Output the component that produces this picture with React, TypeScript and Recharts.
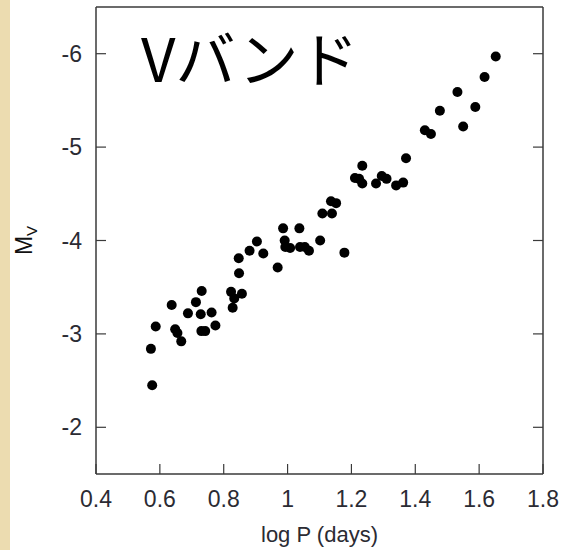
import { ScatterChart, Scatter, XAxis, YAxis } from 'recharts';

// log P (days) of each Cepheid
const logP = [
  0.576, 0.572, 0.587, 0.637, 0.648, 0.655, 0.667, 0.688, 0.713, 0.731,
  0.728, 0.73, 0.742, 0.762, 0.774, 0.823, 0.833, 0.828, 0.857, 0.848,
  0.847, 0.881, 0.904, 0.924, 0.969, 0.986, 0.991, 0.993, 1.008, 1.037,
  1.039, 1.054, 1.067, 1.102, 1.178, 1.109, 1.139, 1.136, 1.152, 1.234,
  1.211, 1.224, 1.234, 1.277, 1.295, 1.31, 1.34, 1.362, 1.371, 1.652,
  1.617, 1.532, 1.477, 1.588, 1.55, 1.43, 1.449,
];

// absolute V magnitude, same order
const absMagV = [
  -2.45, -2.84, -3.08, -3.31, -3.05, -3.01, -2.92, -3.22, -3.34, -3.46,
  -3.21, -3.03, -3.03, -3.23, -3.09, -3.45, -3.38, -3.28, -3.43, -3.65,
  -3.81, -3.89, -3.99, -3.86, -3.71, -4.13, -4.0, -3.93, -3.92, -4.13,
  -3.93, -3.93, -3.89, -4.0, -3.87, -4.29, -4.29, -4.42, -4.4, -4.8,
  -4.67, -4.66, -4.61, -4.61, -4.69, -4.66, -4.59, -4.62, -4.88, -5.97,
  -5.75, -5.59, -5.39, -5.43, -5.22, -5.18, -5.14,
];

const xTicks = [0.4, 0.6, 0.8, 1, 1.2, 1.4, 1.6, 1.8];
const yTicks = [-6, -5, -4, -3, -2];

const data = logP.map((p, i) => ({ logP: p, mv: absMagV[i] }));

const FRAME = '#3a3a3a';
const TEXT = '#2b2b33';
const FONT = '"Liberation Sans", Arial, sans-serif';

const noLabel = () => <g />;

const YLabel = (props: any) => {
  const vb = props.viewBox || { x: 0, y: 7, width: 96, height: 467 };
  const x = vb.x + 32;
  const y = vb.y + vb.height / 2;
  return (
    <text
      x={x}
      y={y}
      transform={`rotate(-90, ${x}, ${y})`}
      textAnchor="middle"
      fill="#111"
      fontFamily={FONT}
      fontSize={23}
    >
      M
      <tspan fontSize={15} dy={5}>V</tspan>
    </text>
  );
};

export default function App() {
  return (
    <div style={{ position: 'absolute', left: 0, top: 0, width: 567, height: 550, background: '#fff' }}>
      <div style={{ position: 'absolute', left: 0, top: 0, width: 10, height: 550, background: '#ecdcb0' }} />
      <ScatterChart width={567} height={550} margin={{ top: 0, right: 0, bottom: 0, left: 0 }}>
        <XAxis
          xAxisId="bottom"
          dataKey="logP"
          type="number"
          domain={[0.4, 1.8]}
          ticks={xTicks}
          allowDataOverflow
          height={76}
          tickSize={-10}
          tickMargin={27}
          axisLine={{ stroke: FRAME, strokeWidth: 1.5 }}
          tickLine={{ stroke: FRAME, strokeWidth: 1.2 }}
          tick={{ fontSize: 23, fill: TEXT, fontFamily: FONT }}
          label={{ value: 'log P (days)', position: 'insideBottom', offset: 8, style: { fontSize: 22, fill: TEXT, fontFamily: FONT } }}
        />
        <XAxis
          xAxisId="top"
          orientation="top"
          type="number"
          domain={[0.4, 1.8]}
          ticks={xTicks}
          allowDataOverflow
          height={7}
          tickSize={-10}
          axisLine={{ stroke: FRAME, strokeWidth: 1.5 }}
          tickLine={{ stroke: FRAME, strokeWidth: 1.2 }}
          tick={noLabel}
        />
        <YAxis
          yAxisId="left"
          dataKey="mv"
          type="number"
          domain={[-6.5, -1.5]}
          reversed
          ticks={yTicks}
          allowDataOverflow
          width={96}
          tickSize={-10}
          tickMargin={24}
          axisLine={{ stroke: FRAME, strokeWidth: 1.5 }}
          tickLine={{ stroke: FRAME, strokeWidth: 1.2 }}
          tick={{ fontSize: 23, fill: TEXT, fontFamily: FONT }}
          label={{ content: YLabel }}
        />
        <YAxis
          yAxisId="right"
          orientation="right"
          type="number"
          domain={[-6.5, -1.5]}
          reversed
          ticks={yTicks}
          allowDataOverflow
          width={24}
          tickSize={-10}
          axisLine={{ stroke: FRAME, strokeWidth: 1.5 }}
          tickLine={{ stroke: FRAME, strokeWidth: 1.2 }}
          tick={noLabel}
        />
        <Scatter
          xAxisId="bottom"
          yAxisId="left"
          data={data}
          isAnimationActive={false}
          shape={(p: any) => <circle cx={p.cx} cy={p.cy} r={5} fill="#000" />}
        />
      </ScatterChart>
      <svg width={567} height={550} style={{ position: 'absolute', left: 0, top: 0, pointerEvents: 'none' }}>
        <text x={141} y={82} fontSize={60} fill="#000" fontFamily='"Noto Sans CJK JP", sans-serif'>
          Vバンド
        </text>
      </svg>
    </div>
  );
}
